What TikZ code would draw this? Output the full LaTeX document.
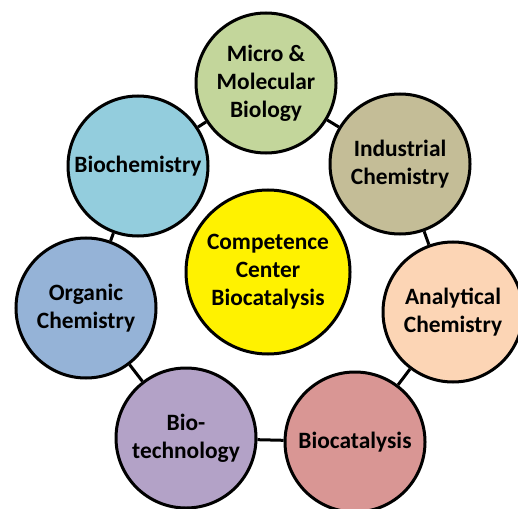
\documentclass[tikz,border=0pt]{standalone}
\usepackage{fontspec}
\setmainfont{Carlito}
\begin{document}
\begin{tikzpicture}[x=1bp,y=-1bp,
  topic/.style={circle,draw=black,line width=3bp,minimum size=140bp,inner sep=0pt,
    align=center,font=\fontsize{23.5}{28}\selectfont\bfseries},
  link/.style={draw=black,line width=3bp}]
\useasboundingbox (0,0) rectangle (518,509);
\definecolor{cmicro}{HTML}{C3D69B}
\definecolor{cbioch}{HTML}{93CDDD}
\definecolor{corg}{HTML}{95B3D7}
\definecolor{cbiot}{HTML}{B3A2C7}
\definecolor{cbioc}{HTML}{D99694}
\definecolor{canal}{HTML}{FCD5B5}
\definecolor{cind}{HTML}{C4BD97}
\node[topic,fill=cmicro] (micro) at (266,83) {Micro \&\\Molecular\\Biology};
\node[topic,fill=cind] (ind) at (400,164) {Industrial\\Chemistry};
\node[topic,fill=canal] (anal) at (453,312) {Analytical\\Chemistry};
\node[topic,fill=cbioc] (bioc) at (355,442) {Biocatalysis};
\node[topic,fill=cbiot] (biot) at (186,438) {Bio-\\technology};
\node[topic,fill=corg] (org) at (86,308) {Organic\\Chemistry};
\node[topic,fill=cbioch] (bioch) at (138,166) {Biochemistry};
\node[topic,fill=yellow,minimum size=164bp] (center) at (268,272) {Competence\\Center\\Biocatalysis};
\draw[link] (micro) -- (ind);
\draw[link] (ind) -- (anal);
\draw[link] (anal) -- (bioc);
\draw[link] (bioc) -- (biot);
\draw[link] (biot) -- (org);
\draw[link] (org) -- (bioch);
\draw[link] (bioch) -- (micro);
\end{tikzpicture}
\end{document}
